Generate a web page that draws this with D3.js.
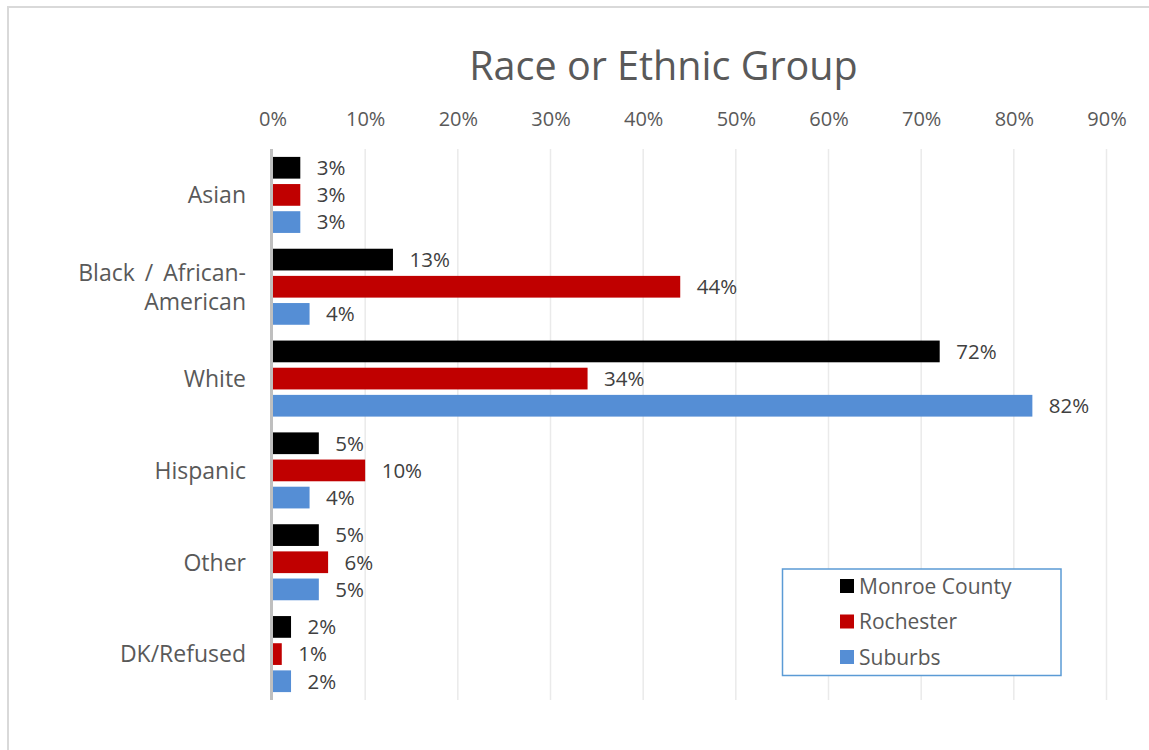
<!DOCTYPE html>
<html>
<head>
<meta charset="utf-8">
<script src="https://cdn.jsdelivr.net/npm/d3@7"></script>
<style>
  html, body { margin: 0; padding: 0; background: #ffffff; }
  svg { display: block; }
  text { font-family: "Open Sans", "Noto Sans", sans-serif; fill: #595959; }
</style>
</head>
<body>
<svg id="chart" width="1149" height="750"></svg>
<script>
// Survey shares by race or ethnic group
const categories = ["Asian", "Black / African-American", "White", "Hispanic", "Other", "DK/Refused"];
const categoryLines = [["Asian"], ["Black / African-", "American"], ["White"], ["Hispanic"], ["Other"], ["DK/Refused"]];
const seriesNames = ["Monroe County", "Rochester", "Suburbs"];
const monroeCounty = [3, 13, 72, 5, 5, 2];
const rochester = [3, 44, 34, 10, 6, 1];
const suburbs = [3, 4, 82, 4, 5, 2];
const tickValues = [0, 10, 20, 30, 40, 50, 60, 70, 80, 90];
const seriesColors = ["#000000", "#C00000", "#558ED5"];

const seriesValues = [monroeCounty, rochester, suburbs];
const rows = categories.map((c, i) => ({
  category: c,
  lines: categoryLines[i],
  values: seriesNames.map((s, j) => ({ series: s, value: seriesValues[j][i], color: seriesColors[j] }))
}));

const svg = d3.select("#chart");

// chart frame
svg.append("rect")
  .attr("x", 8).attr("y", 7)
  .attr("width", 1160).attr("height", 760)
  .attr("fill", "#ffffff")
  .attr("stroke", "#D9D9D9")
  .attr("stroke-width", 2);

const x = d3.scaleLinear().domain([0, 90]).range([272.5, 1106.5]);
const y = d3.scaleBand().domain(categories).range([149, 700]).paddingInner(0.172).paddingOuter(0.086);
const ySub = d3.scaleBand().domain(seriesNames).range([0, y.bandwidth()]).paddingInner(0.2);

// title
svg.append("text")
  .attr("x", 663.5).attr("y", 80)
  .attr("text-anchor", "middle")
  .style("font-size", "39.5px")
  .text("Race or Ethnic Group");

// vertical gridlines
svg.append("g")
  .selectAll("line")
  .data(tickValues.filter(d => d > 0))
  .join("line")
  .attr("x1", d => x(d)).attr("x2", d => x(d))
  .attr("y1", 149).attr("y2", 700)
  .attr("stroke", "#EAEAEA")
  .attr("stroke-width", 1.5);

// top axis tick labels
const axis = svg.append("g")
  .attr("transform", "translate(0,126)")
  .call(d3.axisTop(x).tickValues(tickValues).tickFormat(d => d + "%").tickSize(0).tickPadding(0));
axis.select(".domain").remove();
axis.selectAll("text")
  .attr("fill", "#595959")
  .style("font-size", "20px")
  .style("font-family", "'Open Sans', sans-serif");

// bars
const groups = svg.append("g")
  .selectAll("g")
  .data(rows)
  .join("g")
  .attr("transform", d => `translate(0,${y(d.category)})`);

groups.selectAll("rect")
  .data(d => d.values)
  .join("rect")
  .attr("x", x(0))
  .attr("y", d => ySub(d.series))
  .attr("width", d => x(d.value) - x(0))
  .attr("height", ySub.bandwidth())
  .attr("fill", d => d.color);

// value labels
groups.selectAll("text.val")
  .data(d => d.values)
  .join("text")
  .attr("class", "val")
  .attr("x", d => x(d.value) + 16.5)
  .attr("y", d => ySub(d.series) + ySub.bandwidth() / 2)
  .attr("dy", "0.36em")
  .style("font-size", "20.5px")
  .style("fill", "#404040")
  .text(d => d.value + "%");

// zero axis line
svg.append("line")
  .attr("x1", x(0) - 1).attr("x2", x(0) - 1)
  .attr("y1", 149).attr("y2", 700)
  .attr("stroke", "#BFBFBF")
  .attr("stroke-width", 3);

// category labels
const catLabels = svg.append("g")
  .selectAll("text")
  .data(rows)
  .join("text")
  .attr("text-anchor", "end")
  .style("font-size", "23px")
  .attr("transform", d => `translate(246,${y(d.category) + y.bandwidth() / 2})`);

catLabels.selectAll("tspan")
  .data(d => d.lines.map((t, i) => ({ t, i, n: d.lines.length })))
  .join("tspan")
  .attr("x", 0)
  .attr("y", d => (d.i - (d.n - 1) / 2) * 29)
  .attr("dy", "0.36em")
  .style("word-spacing", d => d.n > 1 ? "4px" : null)
  .text(d => d.t);

// legend
const legend = svg.append("g");
legend.append("rect")
  .attr("x", 782.5).attr("y", 569)
  .attr("width", 278.5).attr("height", 106.5)
  .attr("fill", "#ffffff")
  .attr("stroke", "#5B9BD5")
  .attr("stroke-width", 1.5);

const legendItems = legend.selectAll("g")
  .data(seriesNames)
  .join("g")
  .attr("transform", (d, i) => `translate(840,${586 + i * 35.5})`);

legendItems.append("rect")
  .attr("x", 0).attr("y", -7)
  .attr("width", 14).attr("height", 14)
  .attr("fill", (d, i) => seriesColors[i]);

legendItems.append("text")
  .attr("x", 19).attr("y", 0)
  .attr("dy", "0.36em")
  .style("font-size", "21px")
  .text(d => d);
</script>
</body>
</html>
